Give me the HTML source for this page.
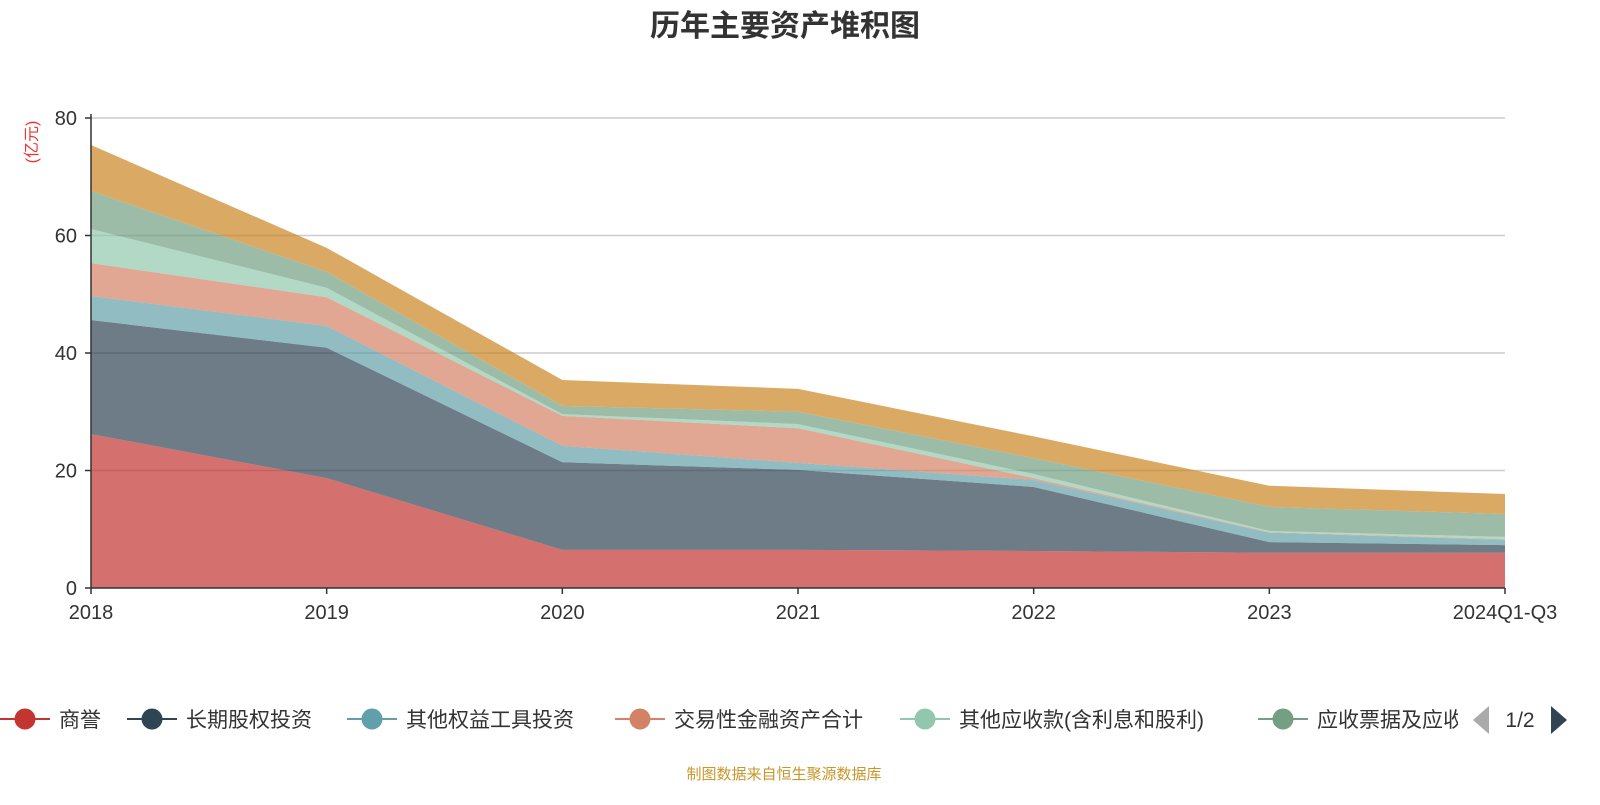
<!DOCTYPE html>
<html><head><meta charset="utf-8"><style>
body{margin:0;background:#fff;width:1600px;height:800px;overflow:hidden;font-family:"Liberation Sans","Noto Sans CJK SC",sans-serif;}
</style></head><body>
<svg id="chart" width="1600" height="800" xmlns="http://www.w3.org/2000/svg" font-family="Liberation Sans, Noto Sans CJK SC, sans-serif">
<text x="785" y="36" text-anchor="middle" font-size="30" font-weight="bold" fill="#333">历年主要资产堆积图</text>
<text transform="translate(37,142) rotate(-90)" text-anchor="middle" font-size="16" fill="#e33">(亿元)</text>
<g id="grid"></g><g id="areas"></g><g id="axes"></g><g id="legend"></g>
<text x="784" y="779" text-anchor="middle" font-size="15" fill="#c8962a">制图数据来自恒生聚源数据库</text>
</svg>
<script>
const categories=["2018","2019","2020","2021","2022","2023","2024Q1-Q3"];
const seriesNames=["商誉","长期股权投资","其他权益工具投资","交易性金融资产合计","其他应收款(含利息和股利)","应收票据及应收账款","存货"];
const sGoodwill=[26.2,18.7,6.5,6.5,6.3,6.0,6.0];
const sLongEquity=[19.4,22.2,14.9,13.6,10.9,1.8,1.3];
const sOtherEquity=[4.1,3.7,2.8,1.2,1.2,1.6,0.9];
const sTrading=[5.6,4.9,5.1,5.9,0.3,0.1,0.1];
const sOtherRecv=[5.8,1.6,0.3,0.7,0.7,0.2,0.4];
const sNotesRecv=[6.5,2.7,1.4,2.1,2.7,4.1,3.9];
const sInventory=[7.8,4.1,4.4,3.9,3.7,3.6,3.4];
const yTicks=[0,20,40,60,80];
const series=[sGoodwill,sLongEquity,sOtherEquity,sTrading,sOtherRecv,sNotesRecv,sInventory];
const colors=["#c23531","#2f4554","#61a0a8","#d48265","#91c7ae","#749f83","#ca8622"];
const NS="http://www.w3.org/2000/svg";
const x0=91,x1=1505,y0=588,y1=118,yMax=80;
const xs=i=>x0+(x1-x0)*i/(categories.length-1);
const ys=v=>y0-(y0-y1)*v/yMax;
function mk(t,a,p){const e=document.createElementNS(NS,t);for(const k in a)e.setAttribute(k,a[k]);p.appendChild(e);return e;}
const grid=document.getElementById('grid'),axes=document.getElementById('axes'),areas=document.getElementById('areas'),legend=document.getElementById('legend');
yTicks.forEach(t=>{
  if(t>0){const g=mk('line',{x1:x0,x2:x1,y1:ys(t),y2:ys(t),stroke:'#ccc','stroke-width':1.5},grid);
  
  }
  const tk=mk('line',{x1:x0-6,x2:x0,y1:ys(t),y2:ys(t),stroke:'#333','stroke-width':1.5},axes);
  
  
  const lb=mk('text',{x:x0-14,y:ys(t)+7,'text-anchor':'end','font-size':20,fill:'#333'},axes);lb.textContent=t;
  
  
});
let base=categories.map(()=>0);
series.forEach((s,si)=>{
  const top=base.map((b,i)=>b+s[i]);
  let d='M'+categories.map((c,i)=>xs(i)+','+ys(top[i])).join('L');
  for(let i=categories.length-1;i>=0;i--)d+='L'+xs(i)+','+ys(base[i]);
  const p=mk('path',{d:d+'Z',fill:colors[si],'fill-opacity':0.7},areas);
  
  
  base=top;
});
const ya=mk('line',{x1:x0,x2:x0,y1:y1-4,y2:y0,stroke:'#333','stroke-width':1.5},axes);


const xa=mk('line',{x1:x0,x2:x1,y1:y0,y2:y0,stroke:'#333','stroke-width':1.5},axes);


categories.forEach((c,i)=>{
  const tk=mk('line',{x1:xs(i),x2:xs(i),y1:y0,y2:y0+6,stroke:'#333','stroke-width':1.5},axes);
  
  
  const lb=mk('text',{x:xs(i),y:y0+31,'text-anchor':'middle','font-size':20,fill:'#333'},axes);lb.textContent=c;
  
  
});
const legX=[25,152,372,640,925,1283];
const defs=mk('defs',{},legend);const cp=mk('clipPath',{id:'lc'},defs);mk('rect',{x:0,y:690,width:1458,height:60},cp);
const lg=mk('g',{'clip-path':'url(#lc)'},legend);
legX.forEach((cx,i)=>{
  const g=mk('g',{},lg);
  
  
  mk('line',{x1:cx-25,x2:cx+25,y1:719,y2:719,stroke:colors[i],'stroke-width':2},g);
  mk('circle',{cx:cx,cy:719,r:10.5,fill:colors[i]},g);
  const t=mk('text',{x:cx+34,y:727,'font-size':21,fill:'#333'},g);t.textContent=seriesNames[i];
});
const pl=mk('path',{d:'M1473,720L1489,706L1489,734Z',fill:'#aaa'},legend);


const pt=mk('text',{x:1520,y:727,'text-anchor':'middle','font-size':21,fill:'#333'},legend);pt.textContent='1/2';


const pn=mk('path',{d:'M1567,720L1551,706L1551,734Z',fill:'#2f4554'},legend);


</script>
</body></html>
